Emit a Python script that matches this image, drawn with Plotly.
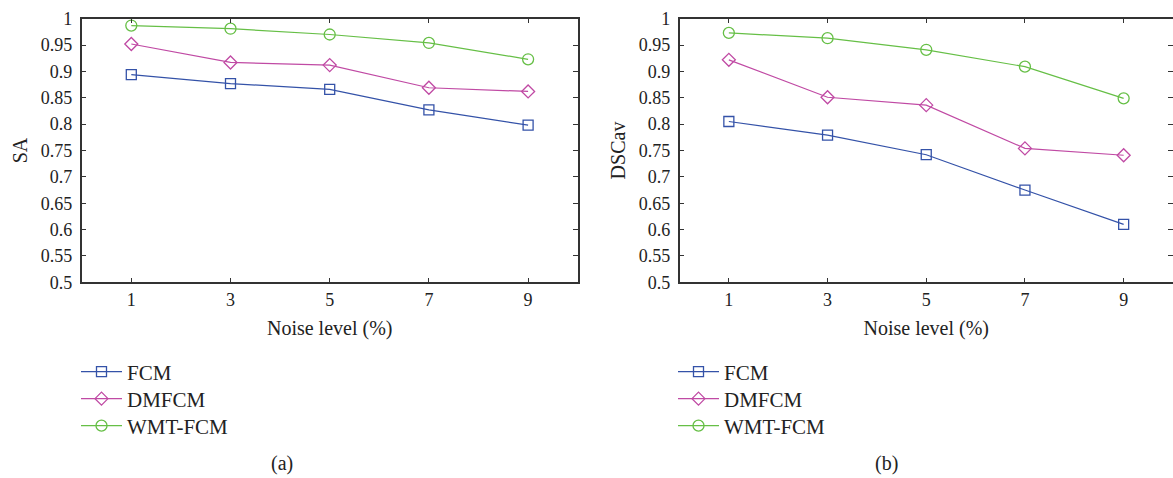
import plotly.graph_objects as go

noise = [1, 3, 5, 7, 9]
series_names = ["FCM", "DMFCM", "WMT-FCM"]
sa_fcm = [0.894, 0.877, 0.866, 0.827, 0.798]
sa_dmfcm = [0.952, 0.917, 0.912, 0.869, 0.862]
sa_wmt = [0.987, 0.981, 0.970, 0.954, 0.923]
dsc_fcm = [0.805, 0.779, 0.742, 0.675, 0.610]
dsc_dmfcm = [0.922, 0.851, 0.836, 0.754, 0.741]
dsc_wmt = [0.973, 0.963, 0.941, 0.909, 0.849]
y_ticks = [0.5, 0.55, 0.6, 0.65, 0.7, 0.75, 0.8, 0.85, 0.9, 0.95, 1]
y_tick_text = ["0.5", "0.55", "0.6", "0.65", "0.7", "0.75", "0.8", "0.85", "0.9", "0.95", "1"]

colors = ["#3452A8", "#C04AA4", "#66BF46"]
symbols = ["square-open", "diamond-open", "circle-open"]
msizes = [10, 10, 11]
FONT = "Liberation Serif"
AX = "#333333"
TXT = "#222222"
W, H = 1173, 478

fig = go.Figure()
left = [sa_fcm, sa_dmfcm, sa_wmt]
right = [dsc_fcm, dsc_dmfcm, dsc_wmt]
leg_y = [372, 399, 426]
layout_legends = {}
n = 0
for panel, (data, xa, ya, lx) in enumerate([(left, "x", "y", 76), (right, "x2", "y2", 673)]):
    for i, name in enumerate(series_names):
        n += 1
        lname = "legend" if n == 1 else f"legend{n}"
        fig.add_trace(go.Scatter(x=noise, y=data[i], name=name, mode="lines+markers",
                                 showlegend=True,
                                 line=dict(color=colors[i], width=1.2),
                                 marker=dict(symbol=symbols[i], size=msizes[i], color=colors[i],
                                             line=dict(width=1.3, color=colors[i])),
                                 xaxis=xa, yaxis=ya, legend=lname))
        layout_legends[lname] = dict(x=lx / W, y=1 - leg_y[i] / H, xanchor="left", yanchor="middle",
                                     itemwidth=41, font=dict(family=FONT, size=21, color=TXT),
                                     bgcolor="rgba(0,0,0,0)", borderwidth=0, visible=True)

def xax(domain, anchor):
    return dict(domain=domain, anchor=anchor, range=[0, 10], tickvals=noise,
                ticks="inside", ticklen=5, tickcolor=AX, tickwidth=1.3, mirror="ticks", showline=True,
                linecolor=AX, linewidth=1.5, showgrid=False, zeroline=False, automargin=False,
                ticklabelstandoff=0,
                tickfont=dict(family=FONT, size=18, color=TXT),
                title=dict(text="Noise level (%)", font=dict(family=FONT, size=20, color=TXT), standoff=12))

def yax(domain, anchor, title):
    return dict(domain=domain, anchor=anchor, range=[0.5, 1], tickvals=y_ticks, ticktext=y_tick_text,
                ticks="inside", ticklen=5, tickcolor=AX, tickwidth=1.3, mirror="ticks", showline=True,
                linecolor=AX, linewidth=1.5, showgrid=False, zeroline=False, automargin=False,
                ticklabelstandoff=4,
                tickfont=dict(family=FONT, size=18, color=TXT),
                title=dict(text=title, font=dict(family=FONT, size=20, color=TXT), standoff=8))

ydom = [1 - 282.3 / H, 1 - 18.7 / H]
fig.update_layout(
    template="none",
    showlegend=True,
    width=W, height=H,
    margin=dict(l=0, r=0, t=0, b=0, autoexpand=False),
    paper_bgcolor="white", plot_bgcolor="white",
    xaxis=xax([81.7 / W, 577.7 / W], "y"),
    yaxis=yax(ydom, "x", "SA"),
    xaxis2=xax([679.5 / W, 1.0], "y2"),
    yaxis2=yax(ydom, "x2", "DSCav"),
    annotations=[
        dict(text="(a)", x=282 / W, y=1 - 463 / H, xref="paper", yref="paper",
             xanchor="center", yanchor="middle",
             showarrow=False, font=dict(family=FONT, size=20, color=TXT)),
        dict(text="(b)", x=886 / W, y=1 - 463 / H, xref="paper", yref="paper",
             xanchor="center", yanchor="middle",
             showarrow=False, font=dict(family=FONT, size=20, color=TXT)),
    ],
    **layout_legends,
)
fig.write_html("out.html", config={"displayModeBar": False},
               post_script="document.body.style.margin='0';")
